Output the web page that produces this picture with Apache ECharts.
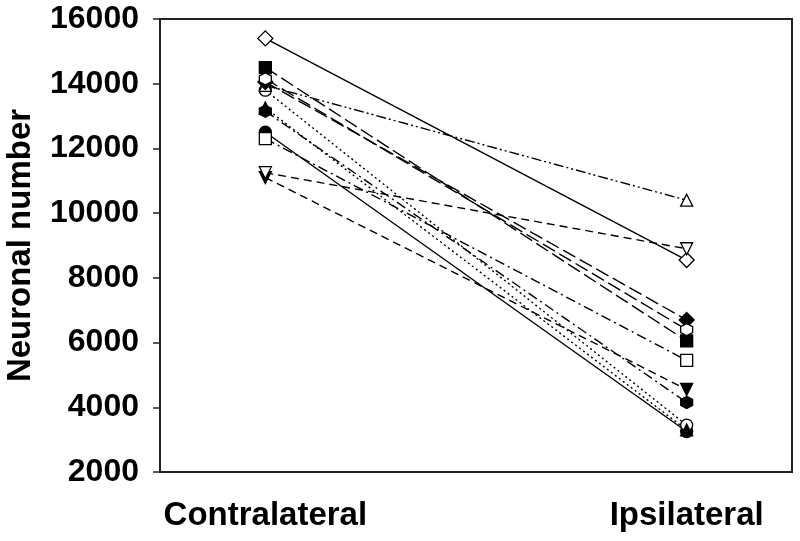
<!DOCTYPE html>
<html>
<head>
<meta charset="utf-8">
<script src="https://cdn.jsdelivr.net/npm/echarts@6/dist/echarts.min.js"></script>
<style>
  html, body { margin: 0; padding: 0; background: #fff; }
  #chart { width: 800px; height: 541px; }
</style>
</head>
<body>
<div id="chart"></div>
<script>
// sides (x positions 0 and 1)
var categories = ['Contralateral', 'Ipsilateral']
// one value per animal, same order in both arrays
var contralateral = [12500, 13800, 11100, 13950, 14500, 12300, 14050, 15400, 13250, 11250, 13150, 14150]
var ipsilateral   = [3250, 3450, 4550, 10400, 6050, 5450, 6700, 8550, 3300, 8900, 4150, 6400]
var yTicks = [2000, 16000, 2000] // min, max, step

// marker + line style per animal (SigmaPlot default cycle)
var triDown = 'path://M-1,-1 L1,-1 L0,1 Z'
var hexagon = 'path://M0,-1 L0.866,-0.5 L0.866,0.5 L0,1 L-0.866,0.5 L-0.866,-0.5 Z'
var markers = [
  ['circle', true], ['circle', false], [triDown, true], ['triangle', false],
  ['rect', true], ['rect', false], ['diamond', true], ['diamond', false],
  ['triangle', true], [triDown, false], [hexagon, true], [hexagon, false]
]
var dashes = [
  'solid', [2, 3], [8, 5], [10, 3, 2, 3, 2, 3],
  [14, 5], [10, 4, 2, 4], [14, 5], 'solid',
  [2, 3], [8, 5], [10, 4, 2, 4], [14, 5]
]

var chart = echarts.init(document.getElementById('chart'))

var seriesTemp = []
for (let i = 0; i < contralateral.length; i++) {
  let filled = markers[i][1]
  seriesTemp.push({
    type: 'line',
    data: [[0, contralateral[i]], [1, ipsilateral[i]]],
    symbol: markers[i][0],
    symbolSize: markers[i][0] == 'diamond' ? 15 : 12,
    showAllSymbol: true,
    lineStyle: { color: '#000', width: 1.4, type: dashes[i] },
    itemStyle: {
      color: filled ? '#000' : '#fff',
      borderColor: '#000',
      borderWidth: 1.3,
      opacity: 1
    },
    emphasis: { disabled: true },
    animation: false
  })
}

var font = 'Arial, "Liberation Sans", sans-serif'

var options = {
  backgroundColor: '#fff',
  grid: {
    left: 160,
    right: 8,
    top: 19,
    bottom: 69,
    outerBoundsMode: 'none',
    containLabel: false,
    show: true,
    borderColor: '#222',
    borderWidth: 2
  },
  xAxis: {
    type: 'value',
    min: -0.25,
    max: 1.25,
    splitLine: { show: false },
    axisLine: { show: true, onZero: false, lineStyle: { color: '#222', width: 2 } },
    axisTick: { show: false },
    axisLabel: {
      customValues: [0, 1],
      formatter: function (v) { return categories[Math.round(v)] },
      fontFamily: font,
      fontWeight: 'bold',
      fontSize: 33,
      color: '#000',
      margin: 27
    }
  },
  yAxis: {
    type: 'value',
    min: yTicks[0],
    max: yTicks[1],
    interval: yTicks[2],
    name: 'Neuronal number',
    nameLocation: 'center',
    nameGap: 123,
    nameRotate: 90,
    nameTextStyle: { fontFamily: font, fontWeight: 'bold', fontSize: 33, color: '#000' },
    splitLine: { show: false },
    axisLine: { show: true, onZero: false, lineStyle: { color: '#222', width: 2 } },
    axisTick: { show: true, inside: false, length: 7, lineStyle: { color: '#222', width: 1.5 } },
    axisLabel: {
      formatter: function (v) { return String(v) },
      fontFamily: font,
      fontWeight: 'bold',
      fontSize: 32,
      color: '#000',
      margin: 21
    }
  },
  series: seriesTemp
}

chart.setOption(options)
</script>
</body>
</html>
